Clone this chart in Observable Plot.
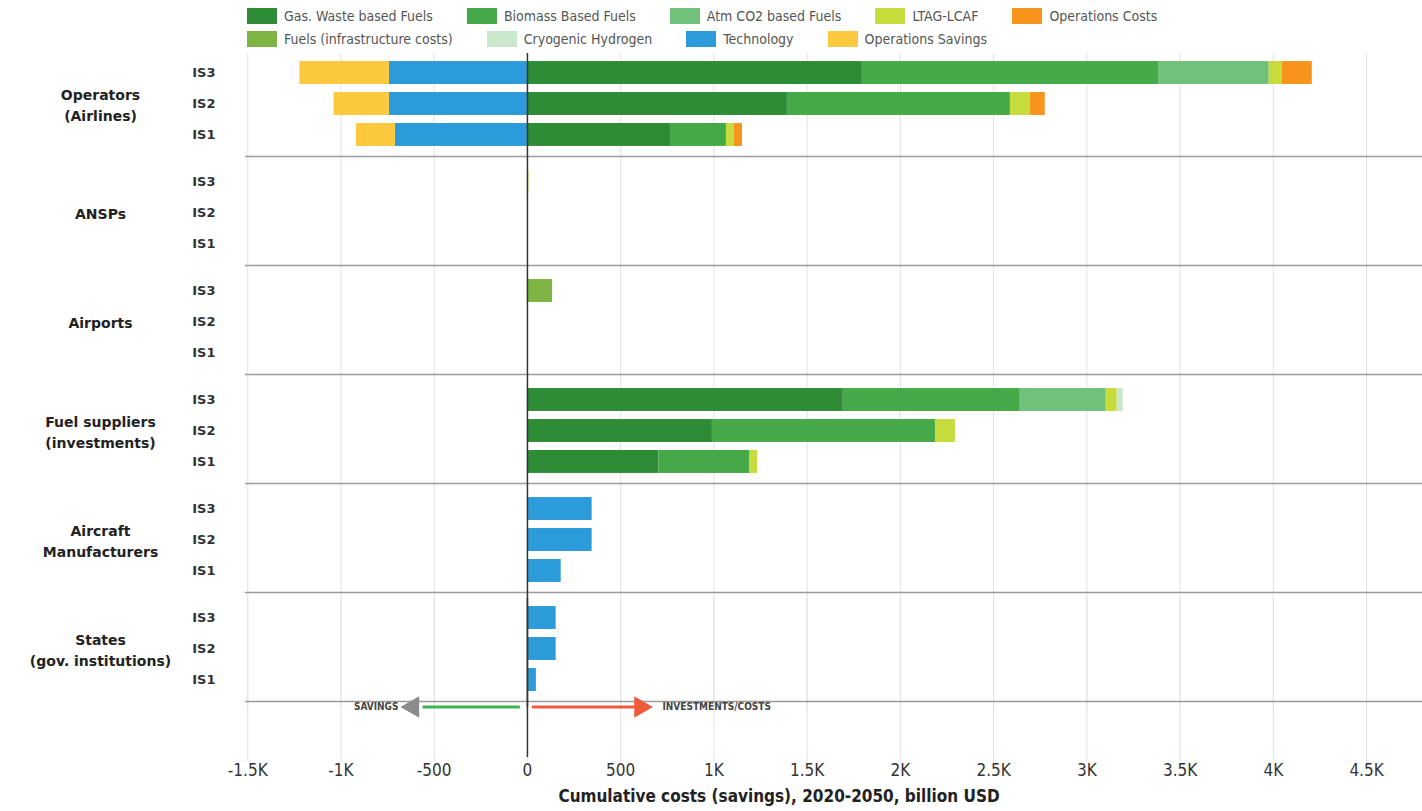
<!DOCTYPE html>
<html>
<head>
<meta charset="utf-8">
<script src="https://cdn.jsdelivr.net/npm/d3@7"></script>
<script src="https://cdn.jsdelivr.net/npm/@observablehq/plot@0.6"></script>
<style>
  body { margin: 0; background: #fff; }
  #legend { height: 50px; width: 1250px; padding-left: 247px; padding-top: 8px; box-sizing: border-box; }
  .lg-swatches { font-family: "Liberation Sans Narrow", "DejaVu Sans Condensed", Roboto, sans-serif !important; font-size: 14px !important; color: #555 !important; margin: 0 !important; }
  .lg-swatches-wrap { row-gap: 7px; min-height: 0 !important; }
  .lg-swatch { margin-right: 34px !important; }
  .lg-swatch > svg { margin-right: 7px !important; }
  #xtitle { width: 1422px; box-sizing: border-box; padding-left: 136px; text-align: center; font-family: "Liberation Sans Narrow", "DejaVu Sans Condensed", Roboto, sans-serif; font-weight: bold; font-size: 17px; color: #222; margin-top: 0px; }
</style>
</head>
<body>
<div id="legend"></div>
<div id="chart"></div>
<div id="xtitle">Cumulative costs (savings), 2020-2050, billion USD</div>
<script>
// ---------- data ----------
const groups = ["Operators", "ANSPs", "Airports", "Fuel suppliers", "Aircraft Manufacturers", "States"];
const groupLabels = ["Operators\n(Airlines)", "ANSPs", "Airports", "Fuel suppliers\n(investments)", "Aircraft\nManufacturers", "States\n(gov. institutions)"];
const scenarios = ["IS3", "IS2", "IS1"];
const categories = ["Gas. Waste based Fuels", "Biomass Based Fuels", "Atm CO2 based Fuels", "LTAG-LCAF", "Operations Costs",
                    "Fuels (infrastructure costs)", "Cryogenic Hydrogen", "Technology", "Operations Savings"];
const colors = ["#2e8b36", "#45a948", "#72c17a", "#c6dc3c", "#f7941d", "#7db443", "#c9e7cb", "#2b9bd9", "#fcc93e"];

// values per category: groups in order above, each IS3, IS2, IS1 (billion USD)
const gasWaste   = [1796, 1394, 767,   0, 0, 0,   0, 0, 0,   1694, 992, 705,   0, 0, 0,   0, 0, 0];
const biomass    = [1592, 1196, 300,   0, 0, 0,   0, 0, 0,   949, 1196, 486,   0, 0, 0,   0, 0, 0];
const atmCO2     = [590, 0, 0,         0, 0, 0,   0, 0, 0,   461, 0, 0,        0, 0, 0,   0, 0, 0];
const ltagLcaf   = [70, 107, 43,       8, 0, 0,   0, 0, 0,   59, 107, 43,      0, 0, 0,   0, 0, 0];
const opsCosts   = [161, 80, 43,       0, 0, 0,   0, 0, 0,   0, 0, 0,          0, 0, 0,   0, 0, 0];
const fuelsInfra = [0, 0, 0,           0, 0, 0,   135, 0, 0, 0, 0, 0,          0, 0, 0,   0, 0, 0];
const cryoH2     = [0, 0, 0,           0, 0, 0,   0, 0, 0,   32, 0, 0,         0, 0, 0,   0, 0, 0];
const technology = [-740, -740, -708,  0, 0, 0,   0, 0, 0,   0, 0, 0,          347, 347, 181,   154, 154, 48];
const opsSavings = [-480, -297, -209,  0, 0, 0,   0, 0, 0,   0, 0, 0,          0, 0, 0,   0, 0, 0];
const seriesValues = [gasWaste, biomass, atmCO2, ltagLcaf, opsCosts, fuelsInfra, cryoH2, technology, opsSavings];

const xTicks = [-1500, -1000, -500, 0, 500, 1000, 1500, 2000, 2500, 3000, 3500, 4000, 4500];
const xTickLabels = ["-1.5K", "-1K", "-500", "0", "500", "1K", "1.5K", "2K", "2.5K", "3K", "3.5K", "4K", "4.5K"];
const xDomain = [-1512, 4800];

// direction annotation (billion USD)
const savingsArrow = {label: "SAVINGS", shaftFrom: -38, shaftTo: -560, head: -614, labelAt: -692};
const costsArrow = {label: "INVESTMENTS/COSTS", shaftFrom: 27, shaftTo: 600, head: 606, labelAt: 724};

// ---------- table ----------
const rows = [];
categories.forEach((cat, c) => {
  groups.forEach((g, gi) => {
    scenarios.forEach((s, si) => {
      const v = seriesValues[c][gi * 3 + si];
      if (v !== 0) rows.push({category: cat, group: g, scenario: s, value: v});
    });
  });
});

const lastGroup = groups[groups.length - 1];
const condensed = "'Liberation Sans Narrow', 'DejaVu Sans Condensed', Roboto, sans-serif";
const bandHalf = 31 * (1 + 0.26) / 2; // half of row step incl. outer padding

const chart = Plot.plot({
  width: 1422,
  height: 736,
  marginTop: 3,
  marginBottom: 87,
  marginLeft: 245,
  marginRight: 0,
  style: {fontFamily: "'DejaVu Sans', sans-serif", fontSize: "13px", color: "#333", background: "#fff", overflow: "visible"},
  x: {domain: xDomain},
  y: {domain: scenarios, padding: 0.26, round: false},
  fy: {domain: groups, paddingInner: 0.0734, paddingOuter: 0, round: false, axis: null},
  color: {domain: categories, range: colors},
  marks: [
    Plot.ruleX(xTicks, {x: d => d, stroke: "#e2e2e2", strokeWidth: 1, insetBottom: -8}),
    Plot.ruleX(xTicks, {x: d => d, fy: () => lastGroup, stroke: "#e2e2e2", strokeWidth: 1, insetBottom: -62}),
    Plot.ruleY(groups, {fy: d => d, y: () => "IS1", dy: bandHalf + 2, stroke: "#9a9a9a", strokeWidth: 1.3}),
    Plot.barX(rows, Plot.stackX({x: "value", y: "scenario", fy: "group", fill: "category"})),
    Plot.ruleX([0], {x: d => d, stroke: "#333", strokeWidth: 1.5, insetBottom: -8}),
    Plot.ruleX([0], {x: d => d, fy: () => lastGroup, stroke: "#333", strokeWidth: 1.5, insetBottom: -58}),
    // direction arrows
    Plot.ruleY([savingsArrow], {x1: "shaftFrom", x2: "shaftTo", y: () => "IS1", fy: () => lastGroup, dy: 27, stroke: "#3db54a", strokeWidth: 3}),
    Plot.dot([savingsArrow], {x: "head", y: () => "IS1", fy: () => lastGroup, dy: 27, symbol: "triangle", rotate: -90, r: 8, fill: "#8c8c8c", stroke: "none"}),
    Plot.text([savingsArrow], {x: "labelAt", y: () => "IS1", fy: () => lastGroup, dy: 27, text: "label", textAnchor: "end", fontSize: 10, fontWeight: "bold", fontFamily: condensed, fill: "#444"}),
    Plot.ruleY([costsArrow], {x1: "shaftFrom", x2: "shaftTo", y: () => "IS1", fy: () => lastGroup, dy: 27, stroke: "#f05a3c", strokeWidth: 3}),
    Plot.dot([costsArrow], {x: "head", y: () => "IS1", fy: () => lastGroup, dy: 27, symbol: "triangle", rotate: 90, r: 8, fill: "#f05a3c", stroke: "none"}),
    Plot.text([costsArrow], {x: "labelAt", y: () => "IS1", fy: () => lastGroup, dy: 27, text: "label", textAnchor: "start", fontSize: 10, fontWeight: "bold", fontFamily: condensed, fill: "#444"}),
    // axes & labels
    Plot.axisY({tickSize: 0, tickPadding: 30, fontWeight: "bold", fontSize: 13, fill: "#333", label: null}),
    Plot.text(groups, {fy: d => d, text: (d, i) => groupLabels[i], frameAnchor: "left", dx: -145, textAnchor: "middle", fontWeight: "bold", fontSize: 14, lineHeight: 1.45, fill: "#222"}),
    Plot.axisX(xTicks, {tickSize: 0, tickPadding: 64, tickFormat: d => xTickLabels[xTicks.indexOf(d)], fontSize: 17, fontFamily: condensed, fill: "#333", label: null})
  ]
});
document.getElementById("chart").appendChild(chart);

const legend = Plot.legend({color: {domain: categories, range: colors}, legend: "swatches", className: "lg", swatchWidth: 30, swatchHeight: 16});
document.getElementById("legend").appendChild(legend);
</script>
</body>
</html>
